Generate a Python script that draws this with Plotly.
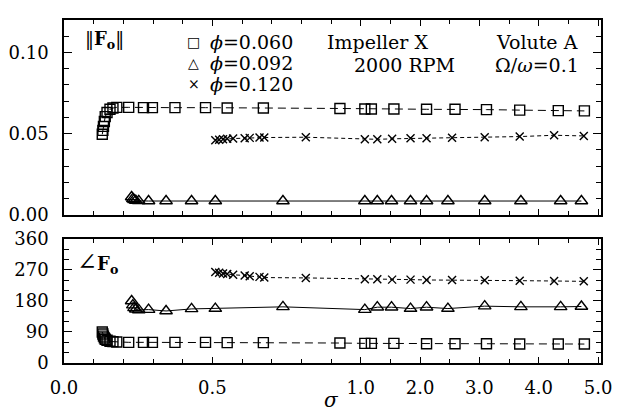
import plotly.graph_objects as go

# ---------------- data ----------------
# phi = 0.060 (squares, dashed)
sig_060 = [0.129, 0.131, 0.133, 0.136, 0.139, 0.145, 0.155, 0.165, 0.178,
           0.218, 0.268, 0.298, 0.374, 0.477, 0.550, 0.672,
           0.930, 1.07, 1.18, 1.56, 2.11, 2.59, 3.12, 3.68, 4.33, 4.77]
mag_060 = [0.0496, 0.0520, 0.0545, 0.0575, 0.0605, 0.0630, 0.0650, 0.0658, 0.0662,
           0.0662, 0.0660, 0.0660, 0.0660, 0.0660, 0.0658, 0.0658,
           0.0655, 0.0652, 0.0652, 0.0652, 0.0650, 0.0650, 0.0648, 0.0645, 0.0642, 0.0640]
ang_060 = [90, 84, 78, 73, 69, 66, 63, 62, 61,
           60, 60, 60, 60, 60, 59, 59,
           58, 57, 57, 57, 56, 56, 56, 55, 55, 55]

# phi = 0.092 (triangles, solid)
sig_092 = [0.228, 0.232, 0.236, 0.242, 0.252, 0.285, 0.344, 0.430, 0.510, 0.738,
           1.07, 1.28, 1.52, 1.84, 2.11, 2.47, 3.09, 3.70, 4.37, 4.72]
mag_092 = [0.0110, 0.0098, 0.0092, 0.0088, 0.0086, 0.0085, 0.0085, 0.0085, 0.0085, 0.0085,
           0.0085, 0.0085, 0.0085, 0.0085, 0.0085, 0.0085, 0.0085, 0.0085, 0.0085, 0.0085]
ang_092 = [180, 168, 160, 156, 154, 155, 151, 157, 158, 163,
           155, 162, 162, 158, 162, 158, 165, 163, 163, 164]

# phi = 0.120 (crosses, short dashes)
sig_120 = [0.510, 0.523, 0.536, 0.550, 0.570, 0.609, 0.626, 0.659, 0.675, 0.815,
           1.07, 1.28, 1.53, 1.84, 2.11, 2.54, 3.09, 3.68, 4.26, 4.76]
mag_120 = [0.0460, 0.0462, 0.0465, 0.0468, 0.0470, 0.0472, 0.0474, 0.0476, 0.0476, 0.0478,
           0.0465, 0.0465, 0.0468, 0.0472, 0.0472, 0.0475, 0.0478, 0.0482, 0.0490, 0.0486]
ang_120 = [264, 262, 260, 258, 256, 254, 252, 250, 248, 247,
           243, 243, 242, 242, 241, 241, 240, 239, 238, 237]

# axis ticks (sigma values)
x_tick_sigma = [0.0, 0.5, 1.0, 2.0, 3.0, 4.0, 5.0]
x_tick_labels = ["0.0", "0.5", "1.0", "2.0", "3.0", "4.0", "5.0"]
mag_ticks = [0.0, 0.05, 0.10]
mag_tick_labels = ["0.00", "0.05", "0.10"]
ang_ticks = [0, 90, 180, 270, 360]


def sig_axis(s):
    """Axis is linear in sigma up to 1, then compressed (0.2 per unit) above 1."""
    return s if s <= 1 else 1 + 0.2 * (s - 1)


def tx(vals):
    return [sig_axis(v) for v in vals]


FONT = "DejaVu Serif"
BLACK = "black"

series = [
    (sig_060, mag_060, ang_060, "square-open", 10, "8px,5px"),
    (sig_092, mag_092, ang_092, "triangle-up-open", 11, "solid"),
    (sig_120, mag_120, ang_120, "x-thin-open", 8, "4px,3px"),
]

fig = go.Figure()
for sig, mag, ang, sym, size, dash in series:
    for yv, xa, ya in ((mag, "x", "y"), (ang, "x2", "y2")):
        fig.add_trace(go.Scatter(
            x=tx(sig), y=yv, xaxis=xa, yaxis=ya, mode="lines+markers",
            line=dict(color=BLACK, width=1, dash=dash),
            marker=dict(symbol=sym, size=size, color=BLACK,
                        line=dict(color=BLACK, width=1.4)),
            showlegend=False, hoverinfo="skip"))

x_range = [0, 1.81]
common_x = dict(range=x_range, showline=True, linecolor=BLACK, linewidth=1.5,
                mirror="allticks", ticks="inside", ticklen=6, tickwidth=1.2,
                tickcolor=BLACK, tickmode="array",
                tickvals=tx(x_tick_sigma), ticktext=x_tick_labels,
                minor=dict(ticks="inside", ticklen=4, tickwidth=1, tickcolor=BLACK,
                           tick0=0, dtick=0.1),
                showgrid=False, zeroline=False, ticklabeloverflow="allow",
                tickfont=dict(family=FONT, size=18, color=BLACK))
common_y = dict(showline=True, linecolor=BLACK, linewidth=1.5, mirror="allticks",
                ticks="inside", ticklen=8, tickwidth=1.2, tickcolor=BLACK,
                showgrid=False, zeroline=False, ticklabelstandoff=10,
                tickfont=dict(family=FONT, size=18, color=BLACK))

fig.update_layout(
    width=621, height=412,
    margin=dict(l=64, r=11, t=9, b=49),
    paper_bgcolor="white", plot_bgcolor="white",
    xaxis=dict(**common_x, anchor="y", showticklabels=False),
    xaxis2=dict(**common_x, anchor="y2", matches="x", ticklabelstandoff=8),
    yaxis=dict(**common_y, domain=[0.432, 1.0], range=[0, 0.12],
               tickmode="array", tickvals=mag_ticks, ticktext=mag_tick_labels,
               minor=dict(ticks="inside", ticklen=5, tickwidth=1, tickcolor=BLACK,
                          tick0=0, dtick=0.01)),
    yaxis2=dict(**common_y, domain=[0.0, 0.3616], range=[0, 360],
                tickmode="array", tickvals=ang_ticks,
                minor=dict(ticks="inside", ticklen=5, tickwidth=1, tickcolor=BLACK,
                           tick0=0, dtick=30)),
)


def px(xp, yp):
    return (xp - 64) / 546, (363 - yp) / 354


def note(text, xp, yp, size=18, xanchor="center"):
    x, y = px(xp, yp)
    fig.add_annotation(text=text, x=x, y=y, xref="paper", yref="paper",
                       xanchor=xanchor, yanchor="middle", showarrow=False,
                       font=dict(family=FONT, size=size, color=BLACK))


note("‖<b>F</b><sub><b>o</b></sub>‖", 105, 30, size=18)
note("<span style='font-size:24px'>∠</span><b>F</b><sub><b>o</b></sub>", 98, 259, size=18)

legend_labels = ["<i>ϕ</i>=0.060", "<i>ϕ</i>=0.092", "<i>ϕ</i>=0.120"]
legend_syms = ["□", "△", "×"]
for i, (s, lab) in enumerate(zip(legend_syms, legend_labels)):
    yp = 32 + i * 21.5
    note(s, 196, yp, size=14)
    note(lab, 210, yp, size=19, xanchor="left")

note("Impeller X", 383, 32, size=19)
note("Volute A", 545, 32, size=19)
note("2000 RPM", 410, 55, size=19)
note("Ω/<i>ω</i>=0.1", 545, 55, size=19)
note("<i>σ</i>", 336, 401, size=20)

fig.write_html("out.html")
